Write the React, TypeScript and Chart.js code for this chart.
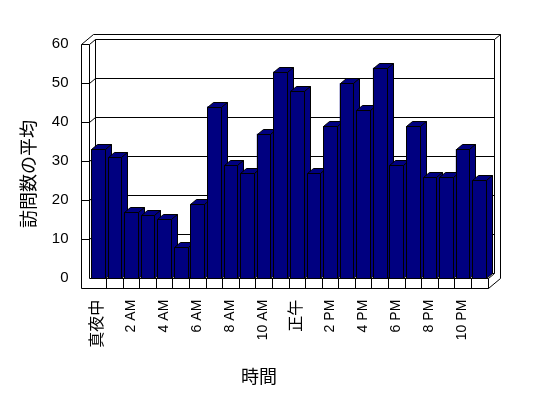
import React, { useEffect, useRef } from "react";
import { Chart, registerables } from "chart.js";

Chart.register(...registerables);

const hours = [
  "真夜中", "1 AM", "2 AM", "3 AM", "4 AM", "5 AM", "6 AM", "7 AM", "8 AM", "9 AM", "10 AM", "11 AM",
  "正午", "1 PM", "2 PM", "3 PM", "4 PM", "5 PM", "6 PM", "7 PM", "8 PM", "9 PM", "10 PM", "11 PM",
];
const visits = [33, 31, 17, 16, 15, 8, 19, 44, 29, 27, 37, 53, 48, 27, 39, 50, 43, 54, 29, 39, 26, 26, 33, 25];
const yTicks = [0, 10, 20, 30, 40, 50, 60];
const yTitle = "訪問数の平均";
const xTitle = "時間";

const NAVY = "#000080";
const FONT = "'Liberation Sans', 'Noto Sans CJK JP', sans-serif";
const CJK = "'Noto Sans CJK JP', sans-serif";

const px = (v: number) => Math.round(v) + 0.5;

const frame3d = {
  id: "frame3d",
  beforeDatasetsDraw(chart: any) {
    const { ctx, chartArea } = chart;
    const yScale = chart.scales.y;
    const L = chartArea.left;
    const R = chartArea.right;
    const T = chartArea.top;
    const B = chartArea.bottom;
    const x0 = L - 8.5;
    const x1 = L - 0.5;
    const ft = 10;
    const d1x = 6, d1y = -5, d2x = 12, d2y = -10;
    ctx.save();
    ctx.strokeStyle = "#000";
    ctx.lineWidth = 1;
    const line = (pts: number[][]) => {
      ctx.beginPath();
      ctx.moveTo(px(pts[0][0]), px(pts[0][1]));
      for (let i = 1; i < pts.length; i++) ctx.lineTo(px(pts[i][0]), px(pts[i][1]));
      ctx.stroke();
    };
    // left wall
    line([[x0, T], [x0, B + ft]]);
    line([[x1, T], [x1, B]]);
    line([[x0, T], [x1, T]]);
    line([[x0, T], [x0 + d2x, T + d2y], [R + d2x, T + d2y], [R + d2x, B]]);
    line([[x1, T], [x1 + d1x, T + d1y], [R + d1x, T + d1y], [R + d1x, B + d1y]]);
    line([[R + d1x, T + d1y], [R + d2x, T + d2y]]);
    line([[x1 + d1x, T + d1y], [x1 + d1x, B + d1y], [R + d1x, B + d1y]]);
    // gridlines
    yTicks.forEach((v) => {
      if (v === yTicks[0] || v === yTicks[yTicks.length - 1]) return;
      const yf = yScale.getPixelForValue(v);
      line([[x0, yf], [x1, yf], [x1 + d1x, yf + d1y], [R + d1x, yf + d1y]]);
    });
    // floor
    line([[x1, B], [R, B], [R + d1x, B + d1y]]);
    line([[x0, B + ft], [R, B + ft], [R + d2x, B + ft + d2y]]);
    line([[R, B], [R, B + ft]]);
    const n = hours.length;
    const cw = (R - L) / n;
    for (let k = 1; k < n; k++) {
      line([[L + k * cw, B], [L + k * cw, B + ft]]);
    }
    ctx.restore();
  },
  afterDatasetsDraw(chart: any) {
    const { ctx } = chart;
    const meta = chart.getDatasetMeta(0);
    const dx = 6, dy = -5;
    ctx.save();
    ctx.strokeStyle = "#000";
    ctx.fillStyle = NAVY;
    ctx.lineWidth = 1;
    meta.data.forEach((bar: any) => {
      const p = bar.getProps(["x", "y", "base", "width"], true);
      const l = px(p.x - p.width / 2);
      const r = px(p.x + p.width / 2);
      const t = px(p.y);
      const b = px(p.base);
      // top
      ctx.beginPath();
      ctx.moveTo(l, t);
      ctx.lineTo(l + dx, t + dy);
      ctx.lineTo(r + dx, t + dy);
      ctx.lineTo(r, t);
      ctx.closePath();
      ctx.fill();
      ctx.stroke();
      // side
      ctx.beginPath();
      ctx.moveTo(r, t);
      ctx.lineTo(r + dx, t + dy);
      ctx.lineTo(r + dx, b + dy);
      ctx.lineTo(r, b);
      ctx.closePath();
      ctx.fill();
      ctx.stroke();
      // front
      ctx.beginPath();
      ctx.rect(l, t, r - l, b - t);
      ctx.fill();
      ctx.stroke();
    });
    ctx.restore();
  },
  afterDraw(chart: any) {
    const { ctx } = chart;
    ctx.save();
    ctx.fillStyle = "#000";
    ctx.font = `18px ${CJK}`;
    ctx.textAlign = "center";
    ctx.textBaseline = "middle";
    ctx.save();
    ctx.translate(28, 174);
    ctx.rotate(-Math.PI / 2);
    ctx.fillText(yTitle, 0, 0);
    ctx.restore();
    ctx.fillText(xTitle, 259, 376);
    ctx.restore();
  },
};

export default function App() {
  const ref = useRef<HTMLCanvasElement | null>(null);
  useEffect(() => {
    if (!ref.current) return;
    const chart = new Chart(ref.current, {
      type: "bar",
      data: {
        labels: hours,
        datasets: [
          {
            data: visits,
            backgroundColor: NAVY,
            borderWidth: 0,
            categoryPercentage: 1,
            barPercentage: 0.82,
          },
        ],
      },
      options: {
        responsive: false,
        animation: false,
        events: [],
        layout: { padding: { left: 0, right: 60.5, top: 44.3, bottom: 0 } },
        plugins: { legend: { display: false }, tooltip: { enabled: false } },
        scales: {
          x: {
            grid: { display: false, drawTicks: false },
            border: { display: false },
            afterFit: (s: any) => {
              s.height = 398 - 44.3 - 233.4;
            },
            ticks: {
              autoSkip: false,
              maxRotation: 90,
              minRotation: 90,
              padding: 22,
              color: "#000",
              font: (c: any) => ({
                family: FONT,
                size: /[^\x00-\x7F]/.test(hours[c.index] || "") ? 16 : 14,
              }),
              callback: (_v: any, i: number) => (i % 2 === 0 ? hours[i] : ""),
            },
          },
          y: {
            min: yTicks[0],
            max: yTicks[yTicks.length - 1],
            grid: { display: false, drawTicks: false },
            border: { display: false },
            afterFit: (s: any) => {
              s.width = 89.5;
            },
            ticks: {
              stepSize: 10,
              padding: 21,
              color: "#000",
              font: { family: FONT, size: 15 },
            },
          },
        },
      },
      plugins: [frame3d],
    });
    return () => chart.destroy();
  }, []);
  return (
    <div style={{ position: "absolute", left: 0, top: 0, width: 548, height: 398, background: "#fff" }}>
      <canvas ref={ref} width={548} height={398} style={{ display: "block" }} />
    </div>
  );
}
